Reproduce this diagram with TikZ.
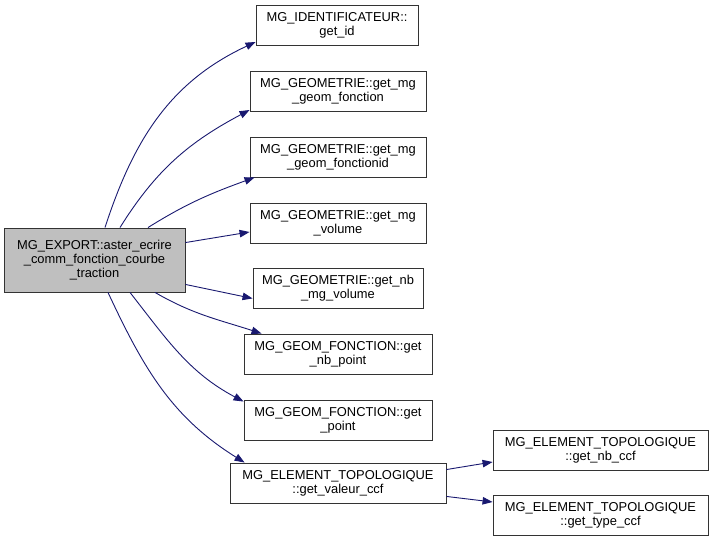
\documentclass[tikz,border=0pt]{standalone}
\usepackage{fontspec}
\setmainfont{Liberation Sans}
\usetikzlibrary{arrows.meta}
\definecolor{edgeblue}{HTML}{191970}
\definecolor{mainfill}{HTML}{BFBFBF}

\begin{document}
\begin{tikzpicture}[x=1pt,y=1pt,
    fn/.style={draw=black!80, fill=white, line width=0.9pt, align=center,
      inner sep=0pt, minimum height=40pt, font=\fontsize{12.9}{14}\selectfont},
    call/.style={draw=edgeblue, line width=0.9pt,
      -{Stealth[length=10pt,width=7.5pt,inset=0pt]}}]
    \useasboundingbox (0,0) rectangle (713,541);

    \node [fn, fill=mainfill, minimum width=181pt, minimum height=64pt] (export) at (94.5,281)
      {MG\_EXPORT::aster\_ecrire\\\_comm\_fonction\_courbe\\\_traction};

    \node [fn, minimum width=162pt] (id) at (337,516) {MG\_IDENTIFICATEUR::\\get\_id};
    \node [fn, minimum width=176pt] (geomfct) at (338,450) {MG\_GEOMETRIE::get\_mg\\\_geom\_fonction};
    \node [fn, minimum width=176pt] (geomfctid) at (338,384) {MG\_GEOMETRIE::get\_mg\\\_geom\_fonctionid};
    \node [fn, minimum width=176pt] (volume) at (338,318) {MG\_GEOMETRIE::get\_mg\\\_volume};
    \node [fn, minimum width=170pt] (nbvolume) at (338,253) {MG\_GEOMETRIE::get\_nb\\\_mg\_volume};
    \node [fn, minimum width=188pt] (nbpoint) at (338,187) {MG\_GEOM\_FONCTION::get\\\_nb\_point};
    \node [fn, minimum width=188pt] (point) at (338,121) {MG\_GEOM\_FONCTION::get\\\_point};
    \node [fn, minimum width=216pt] (valeur) at (338,58) {MG\_ELEMENT\_TOPOLOGIQUE\\::get\_valeur\_ccf};
    \node [fn, minimum width=215pt] (nbccf) at (600.5,91) {MG\_ELEMENT\_TOPOLOGIQUE\\::get\_nb\_ccf};
    \node [fn, minimum width=215pt] (typeccf) at (600.5,26) {MG\_ELEMENT\_TOPOLOGIQUE\\::get\_type\_ccf};

    % calls from the export function
    \draw [call] ([xshift=10.5pt]export.north) to[out=72,in=205] ([yshift=-17pt]id.west);
    \draw [call] ([xshift=25.5pt]export.north) to[out=58,in=208] ([yshift=-19pt]geomfct.west);
    \draw [call] ([xshift=53.5pt]export.north) to[out=32,in=200] ([xshift=5pt]geomfctid.south west);
    \draw [call] ([yshift=-15pt]export.north east) -- ([yshift=-9pt]volume.west);
    \draw [call] ([yshift=8pt]export.south east) -- ([yshift=10pt]nbvolume.south west);
    \draw [call] ([xshift=60.5pt]export.south) to[out=-30,in=162] ([xshift=18pt]nbpoint.north west);
    \draw [call] ([xshift=35.5pt]export.south) to[out=-52,in=152] ([yshift=-2pt]point.north west);
    \draw [call] ([xshift=13.5pt]export.south) to[out=-65,in=148] ([xshift=15pt]valeur.north west);
    % calls from get_valeur_ccf
    \draw [call] ([yshift=-7pt]valeur.north east) -- ([yshift=-12pt]nbccf.west);
    \draw [call] ([yshift=7pt]valeur.south east) -- ([yshift=13pt]typeccf.west);
\end{tikzpicture}
\end{document}
